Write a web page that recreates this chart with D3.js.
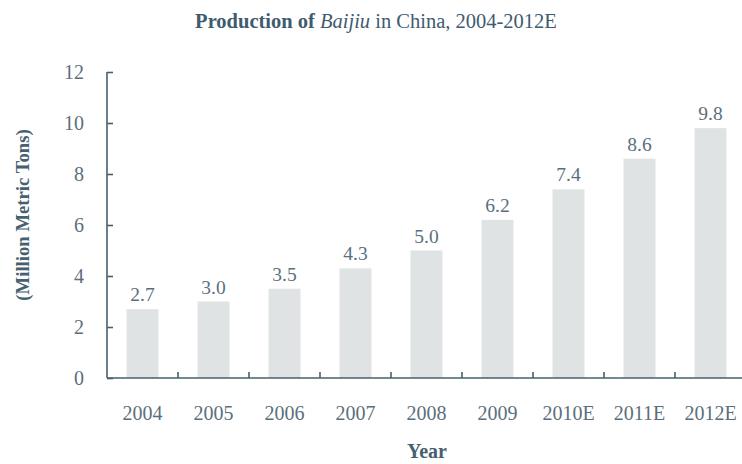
<!DOCTYPE html>
<html>
<head>
<meta charset="utf-8">
<script src="https://cdn.jsdelivr.net/npm/d3@7"></script>
<style>
  body { margin: 0; background: #fff; }
  svg { display: block; }
</style>
</head>
<body>
<svg id="chart" width="742" height="464"></svg>
<script>
// data
const years = ['2004', '2005', '2006', '2007', '2008', '2009', '2010E', '2011E', '2012E']
const production = [2.7, 3.0, 3.5, 4.3, 5.0, 6.2, 7.4, 8.6, 9.8]
const yTicks = [0, 2, 4, 6, 8, 10, 12]

const width = 742
const height = 464
const ink = '#46606f'
const textColor = '#5b6f7b'
const barColor = '#e0e3e4'
const font = '"Liberation Serif", "Times New Roman", serif'

const svg = d3.select('#chart')

svg.append('rect')
  .attr('width', width)
  .attr('height', height)
  .attr('fill', '#fff')

const margin = { top: 72, right: 0, bottom: 86, left: 107 }

// scales
const x = d3.scaleBand()
  .domain(years)
  .range([margin.left, margin.left + 71 * years.length])
  .paddingInner(0.55)
  .paddingOuter(0.275)

const y = d3.scaleLinear()
  .domain([0, 12])
  .range([height - margin.bottom, margin.top])

// title
const title = svg.append('text')
  .attr('x', 376)
  .attr('y', 28)
  .attr('text-anchor', 'middle')
  .attr('font-family', font)
  .attr('font-size', 20.5)
  .attr('fill', '#3f5b70')
title.append('tspan').attr('font-weight', 'bold').text('Production of ')
title.append('tspan').attr('font-style', 'italic').text('Baijiu')
title.append('tspan').text(' in China, 2004-2012E')

// bars
svg.append('g')
  .selectAll('rect')
  .data(production)
  .join('rect')
  .attr('x', (d, i) => x(years[i]))
  .attr('width', x.bandwidth())
  .attr('y', d => y(d))
  .attr('height', d => y(0) - y(d))
  .attr('fill', barColor)

// value labels
svg.append('g')
  .selectAll('text')
  .data(production)
  .join('text')
  .attr('x', (d, i) => x(years[i]) + x.bandwidth() / 2)
  .attr('y', d => y(d) - 8)
  .attr('text-anchor', 'middle')
  .attr('font-family', font)
  .attr('font-size', 19.5)
  .attr('fill', textColor)
  .text(d => d.toFixed(1))

// y axis
const yAxis = svg.append('g')
  .attr('transform', `translate(${margin.left},0)`)
  .call(d3.axisLeft(y).tickValues(yTicks).tickSize(-6).tickPadding(23))
yAxis.select('.domain').attr('d', `M0,${y(12)}V${y(0)}`)
yAxis.selectAll('line, path').attr('stroke', ink).attr('stroke-width', 1.6)
yAxis.selectAll('text')
  .attr('font-family', font)
  .attr('font-size', 20)
  .attr('fill', textColor)

// x axis
const xAxis = svg.append('g')
  .attr('transform', `translate(0,${y(0)})`)
  .call(d3.axisBottom(x).tickSize(0).tickPadding(28))
xAxis.select('.domain').attr('d', `M${margin.left},0H${width}`)
xAxis.selectAll('path').attr('stroke', ink).attr('stroke-width', 1.6)
xAxis.selectAll('text')
  .attr('font-family', font)
  .attr('font-size', 20)
  .attr('fill', textColor)

// tick marks between categories
xAxis.append('g')
  .selectAll('line')
  .data(years.slice(1))
  .join('line')
  .attr('x1', d => x(d) - x.step() * x.paddingInner() / 2)
  .attr('x2', d => x(d) - x.step() * x.paddingInner() / 2)
  .attr('y1', 0)
  .attr('y2', -6)
  .attr('stroke', ink)
  .attr('stroke-width', 1.6)

// axis titles
svg.append('text')
  .attr('x', 427)
  .attr('y', 458)
  .attr('text-anchor', 'middle')
  .attr('font-family', font)
  .attr('font-size', 20)
  .attr('font-weight', 'bold')
  .attr('fill', ink)
  .text('Year')

svg.append('text')
  .attr('transform', 'translate(29,215) rotate(-90)')
  .attr('text-anchor', 'middle')
  .attr('font-family', font)
  .attr('font-size', 18.7)
  .attr('font-weight', 'bold')
  .attr('fill', ink)
  .text('(Million Metric Tons)')
</script>
</body>
</html>
